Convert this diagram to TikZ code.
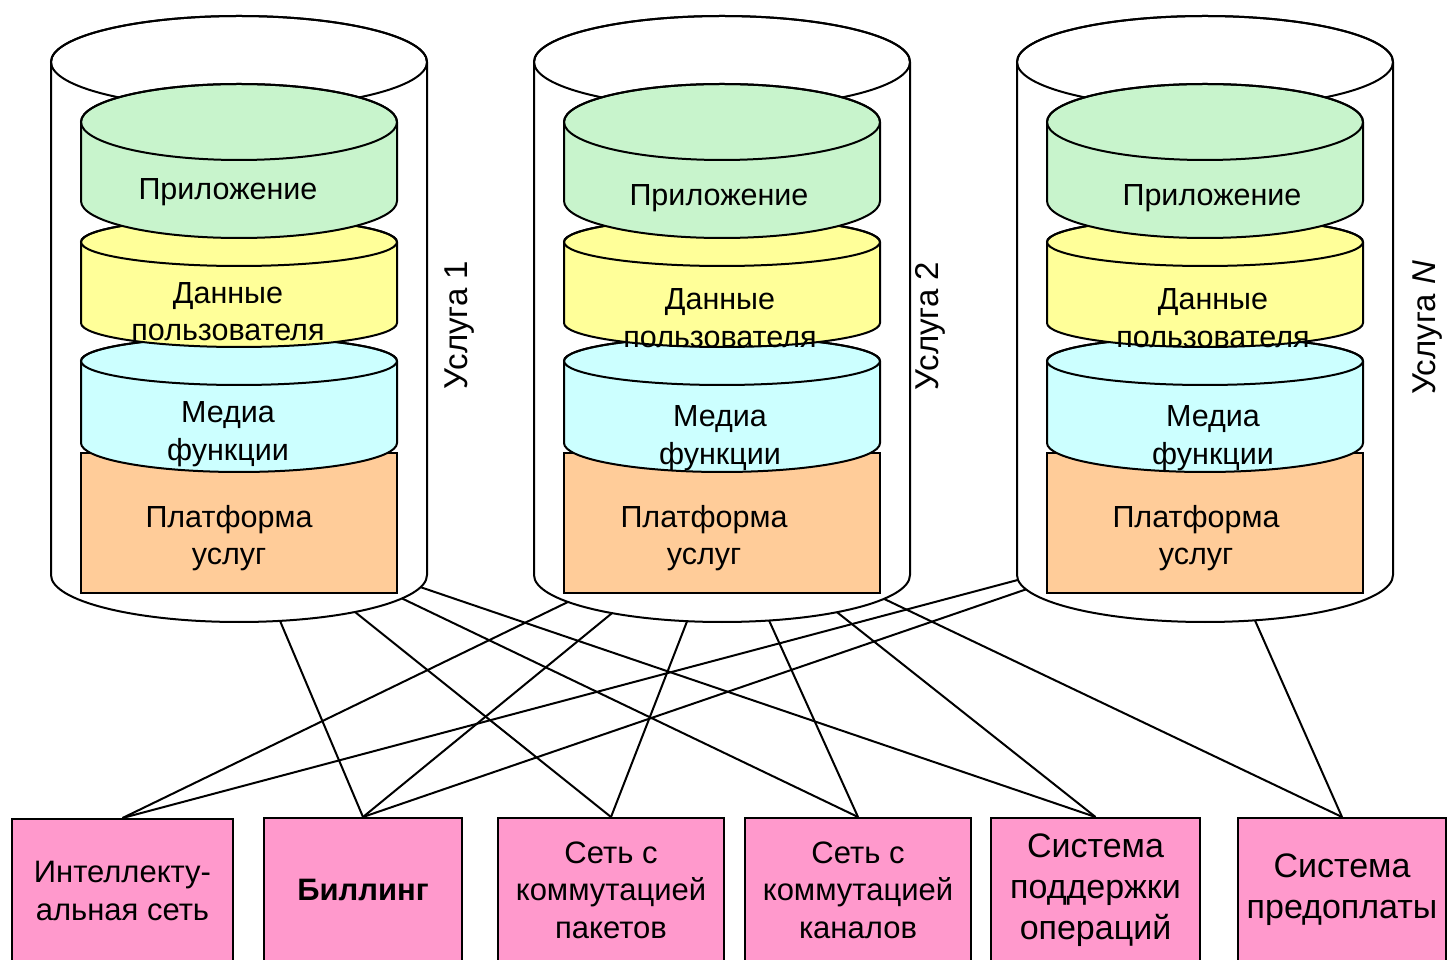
\documentclass[tikz,border=0pt]{standalone}
\usepackage{fontspec}
\setmainfont{Liberation Sans}
\definecolor{appgreen}{RGB}{200,244,204}
\definecolor{datayellow}{RGB}{255,255,153}
\definecolor{medcyan}{RGB}{204,255,255}
\definecolor{platorange}{RGB}{255,204,153}
\definecolor{syspink}{RGB}{255,153,204}
\tikzset{
  outline/.style={draw=black, line width=2pt},
  link/.style={draw=black, line width=2pt},
  layertext/.style={align=center, font=\fontsize{30.5}{37.5}\selectfont},
  svclabel/.style={rotate=90, font=\fontsize{33}{40}\selectfont},
  sysbox/.style={draw=black, line width=2pt, fill=syspink, minimum height=144pt,
    inner sep=0pt, align=center, font=\fontsize{31}{37.5}\selectfont},
  bigsys/.style={font=\fontsize{34}{41}\selectfont},
}
\begin{document}
\begin{tikzpicture}[x=1pt,y=1pt]
  \useasboundingbox (0,0) rectangle (1447,959);
  \clip (0,0) rectangle (1447,959);
  % three services, stacked from the bottom layer up
  \foreach \c in {239,722,1205} {
    \filldraw[outline,fill=white] (\c-188,897) -- (\c-188,384)
      arc[start angle=180,end angle=360,x radius=188,y radius=47] -- (\c+188,897)
      arc[start angle=0,end angle=180,x radius=188,y radius=46] -- cycle;
    \draw[outline] (\c,897) ellipse[x radius=188,y radius=46];
    \filldraw[outline,fill=platorange] (\c-158,366) rectangle (\c+158,506);
    \filldraw[outline,fill=medcyan] (\c-158,598) -- (\c-158,516)
      arc[start angle=180,end angle=360,x radius=158,y radius=29] -- (\c+158,598)
      arc[start angle=0,end angle=180,x radius=158,y radius=24] -- cycle;
    \draw[outline] (\c,598) ellipse[x radius=158,y radius=24];
    \filldraw[outline,fill=datayellow] (\c-158,717) -- (\c-158,636)
      arc[start angle=180,end angle=360,x radius=158,y radius=24] -- (\c+158,717)
      arc[start angle=0,end angle=180,x radius=158,y radius=24] -- cycle;
    \draw[outline] (\c,717) ellipse[x radius=158,y radius=24];
    \filldraw[outline,fill=appgreen] (\c-158,837) -- (\c-158,758)
      arc[start angle=180,end angle=360,x radius=158,y radius=37] -- (\c+158,837)
      arc[start angle=0,end angle=180,x radius=158,y radius=38] -- cycle;
    \draw[outline] (\c,837) ellipse[x radius=158,y radius=38];
  }
  \node[layertext] (app1) at (228,767) {Приложение};
  \node[layertext] (data1) at (228,647.5) {Данные\\пользователя};
  \node[layertext] (media1) at (228,525) {Медиа\\функции};
  \node[layertext] (plat1) at (229,421) {Платформа\\услуг};
  \node[layertext] (app2) at (719,761) {Приложение};
  \node[layertext] (data2) at (720,641) {Данные\\пользователя};
  \node[layertext] (media2) at (720,521) {Медиа\\функции};
  \node[layertext] (plat2) at (704,421) {Платформа\\услуг};
  \node[layertext] (app3) at (1212,761) {Приложение};
  \node[layertext] (data3) at (1213,641) {Данные\\пользователя};
  \node[layertext] (media3) at (1213,521) {Медиа\\функции};
  \node[layertext] (plat3) at (1196,421) {Платформа\\услуг};
  \node[svclabel] (svc1) at (460,634) {Услуга 1};
  \node[svclabel] (svc2) at (930,633) {Услуга 2};
  \node[svclabel] (svcN) at (1428,631) {Услуга \textit{N}};
  % support systems
  \node[sysbox, minimum width=221pt] (intel) at (122.5,68) {Интеллекту-\\альная сеть};
  \node[sysbox, minimum width=198pt, font=\fontsize{31}{37.5}\selectfont\bfseries] (bill) at (363,69) {Биллинг};
  \node[sysbox, minimum width=226pt] (packet) at (611,69) {Сеть с\\коммутацией\\пакетов};
  \node[sysbox, minimum width=226pt] (circuit) at (858,69) {Сеть с\\коммутацией\\каналов};
  \node[sysbox, bigsys, minimum width=209pt] (oss) at (1095.5,69) {Система\\поддержки\\операций};
  \node[sysbox, bigsys, minimum width=208pt] (prepay) at (1342,69) {Система\\предоплаты};
  % points on the cylinder bottoms
  \path (239,384) ++(-77.4:188 and 47) coordinate (s1a)
        (239,384) ++(-51.9:188 and 47) coordinate (s1b)
        (239,384) ++(-29.9:188 and 47) coordinate (s1c)
        (239,384) ++(-15:188 and 47) coordinate (s1d);
  \path (722,384) ++(-145:188 and 47) coordinate (s2a)
        (722,384) ++(-125.8:188 and 47) coordinate (s2b)
        (722,384) ++(-100.7:188 and 47) coordinate (s2c)
        (722,384) ++(-75.5:188 and 47) coordinate (s2d)
        (722,384) ++(-52.3:188 and 47) coordinate (s2e)
        (722,384) ++(-30.5:188 and 47) coordinate (s2f);
  \path (1205,384) ++(-174:188 and 47) coordinate (s3a)
        (1205,384) ++(-162.2:188 and 47) coordinate (s3b)
        (1205,384) ++(-74.6:188 and 47) coordinate (s3c);
  \draw[link] (s1a) -- (bill.north);
  \draw[link] (s1b) -- (packet.north);
  \draw[link] (s1c) -- (circuit.north);
  \draw[link] (s1d) -- (oss.north);
  \draw[link] (s2a) -- (intel.north);
  \draw[link] (s2b) -- (bill.north);
  \draw[link] (s2c) -- (packet.north);
  \draw[link] (s2d) -- (circuit.north);
  \draw[link] (s2e) -- (oss.north);
  \draw[link] (s2f) -- (prepay.north);
  \draw[link] (s3a) -- (intel.north);
  \draw[link] (s3b) -- (bill.north);
  \draw[link] (s3c) -- (prepay.north);
\end{tikzpicture}
\end{document}
